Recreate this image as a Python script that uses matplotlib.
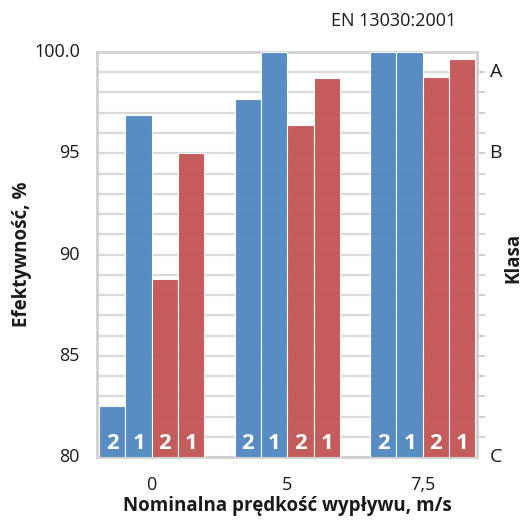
import matplotlib
matplotlib.use("Agg")
import matplotlib.pyplot as plt
import numpy as np

plt.rcParams['font.family'] = ['Open Sans', 'DejaVu Sans']

categories = ["0", "5", "7,5"]
series_names = ["2", "1", "2", "1"]
series_colors = ["#4A84BE", "#4A84BE", "#C0504F", "#C0504F"]
values = [
    [82.5, 97.7, 100.0],   # blue 2
    [96.9, 100.0, 100.0],  # blue 1
    [88.8, 96.4, 98.75],   # red 2
    [95.0, 98.7, 99.65],   # red 1
]
left_ticks = [80, 85, 90, 95, 100]
left_labels = ["80", "85", "90", "95", "100.0"]
class_ticks = [80, 95, 99]
class_labels = ["C", "B", "A"]

fig = plt.figure(figsize=(5.28, 5.21), dpi=100)
ax = fig.add_axes([0.1837, 0.1228, 0.7197, 0.7774])

x = np.arange(len(categories))
bw = 0.194
offsets = (np.arange(4) - 1.5) * bw
ymin = 80
for i in range(4):
    ax.bar(x + offsets[i], np.array(values[i]) - ymin, bottom=ymin, width=bw,
           color=series_colors[i], alpha=0.93, edgecolor="white", linewidth=0.8, zorder=3)
    for xi in x:
        ax.text(xi + offsets[i], 80.65, series_names[i], color="white", fontsize=16,
                fontweight="bold", ha="center", va="center", zorder=5)

ax.set_xlim(-0.404, 2.40)
ax.set_ylim(80, 100)
ax.set_yticks(np.arange(80, 101, 1), minor=False)
ax.yaxis.grid(True, color="#D9D9D9", linewidth=1.6, zorder=1)
ax.set_axisbelow(True)
ax.tick_params(axis="y", length=0, labelleft=False)
for t, l in zip(left_ticks, left_labels):
    ax.text(-0.53, t, l, ha="right", va="center", fontsize=13, color="#1a1a1a",
            transform=ax.transData)

ax.set_xticks(x)
ax.set_xticklabels(categories, fontsize=13, color="#1a1a1a")
ax.tick_params(axis="x", length=0, pad=14)

for s in ax.spines.values():
    s.set_color("#D0D0D0")
    s.set_linewidth(2)

# right class axis
ax2 = ax.twinx()
ax2.set_ylim(80, 100)
ax2.set_yticks(np.arange(81, 100, 1))
ax2.set_yticklabels([])
ax2.tick_params(axis="y", length=6, width=1.4, color="#D0D0D0")
for s in ax2.spines.values():
    s.set_visible(False)
for t, l in zip(class_ticks, class_labels):
    ax2.text(1.033, t, l, ha="left", va="center", fontsize=14, color="#1a1a1a",
             transform=ax2.get_yaxis_transform())

ax.set_xlabel("Nominalna prędkość wypływu, m/s", fontsize=13.5, fontweight="bold",
              color="#1a1a1a", labelpad=1)
fig.text(0.042, 0.512, "Efektywność, %", rotation=90, ha="center", va="center",
         fontsize=13.5, fontweight="bold", color="#1a1a1a")
fig.text(0.972, 0.505, "Klasa", rotation=90, ha="center", va="center",
         fontsize=13.5, fontweight="bold", color="#1a1a1a")
fig.text(0.745, 0.96, "EN 13030:2001", ha="center", va="center", fontsize=13,
         color="#1a1a1a")

fig.savefig("out.png", dpi=100)
